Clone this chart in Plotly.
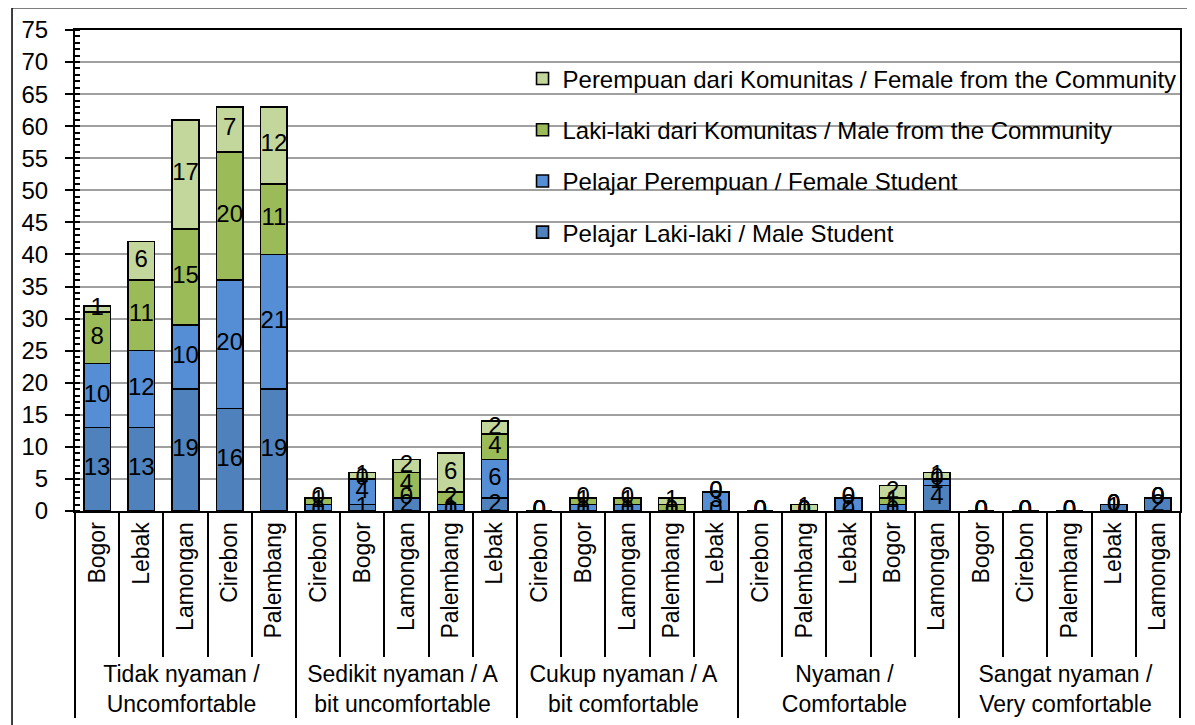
import plotly.graph_objects as go
import numpy as np

group_names = ["Tidak nyaman /<br>Uncomfortable", "Sedikit nyaman / A<br>bit uncomfortable",
               "Cukup nyaman / A<br>bit comfortable", "Nyaman /<br>Comfortable",
               "Sangat nyaman /<br>Very comfortable"]
cities_by_group = [
    ["Bogor", "Lebak", "Lamongan", "Cirebon", "Palembang"],
    ["Cirebon", "Bogor", "Lamongan", "Palembang", "Lebak"],
    ["Cirebon", "Bogor", "Lamongan", "Palembang", "Lebak"],
    ["Cirebon", "Palembang", "Lebak", "Bogor", "Lamongan"],
    ["Bogor", "Cirebon", "Palembang", "Lebak", "Lamongan"],
]

male_student = [13, 13, 19, 16, 19, 0, 1, 2, 0, 2, 0, 0, 0, 0, 0, 0, 0, 0, 0, 4, 0, 0, 0, 1, 2]
female_student = [10, 12, 10, 20, 21, 1, 4, 0, 1, 6, 0, 1, 1, 0, 3, 0, 0, 2, 1, 1, 0, 0, 0, 0, 0]
male_comm = [8, 11, 15, 20, 11, 1, 0, 4, 2, 4, 0, 1, 1, 1, 0, 0, 0, 0, 1, 0, 0, 0, 0, 0, 0]
female_comm = [1, 6, 17, 7, 12, 0, 1, 2, 6, 2, 0, 0, 0, 1, 0, 0, 1, 0, 2, 1, 0, 0, 0, 0, 0]

series = [
    ("Pelajar Laki-laki / Male Student", male_student, "#4F81BD"),
    ("Pelajar Perempuan / Female Student", female_student, "#558ED5"),
    ("Laki-laki dari Komunitas / Male from the Community", male_comm, "#9BBB59"),
    ("Perempuan dari Komunitas / Female from the Community", female_comm, "#C3D69B"),
]

# build the two-level category axis; zero-width spaces keep each group's own city order
groups, cities = [], []
for gi, (g, cs) in enumerate(zip(group_names, cities_by_group)):
    for c in cs:
        groups.append(g)
        cities.append(c + "\u200b" * gi)

FONT = "Liberation Sans, Arial, sans-serif"
FS = 24
x = [groups, cities]
fig = go.Figure()
base = np.zeros(len(cities))
label_traces = []
ranks = [4, 3, 2, 1]
for i, (name, vals, col) in enumerate(series):
    v = np.array(vals, dtype=float)
    fig.add_trace(go.Bar(
        x=x, y=vals, name=name, marker=dict(color=col, line=dict(color="black", width=1.6)),
        legendgroup=str(i), legendrank=ranks[i], hoverinfo="y+name"))
    label_traces.append(go.Scatter(
        x=x, y=base + v / 2, mode="text", text=[str(t) for t in vals],
        textfont=dict(family=FONT, size=FS, color="black"), showlegend=False, hoverinfo="skip"))
    base = base + v
for t in label_traces:
    fig.add_trace(t)

fig.update_layout(
    width=1187, height=717,
    barmode="stack", bargap=0.4,
    paper_bgcolor="white", plot_bgcolor="white",
    margin=dict(l=67, r=15, t=22, b=214, autoexpand=False),
    font=dict(family=FONT, size=FS, color="black"),
    legend=dict(x=0.405, y=0.945, xanchor="left", yanchor="top",
                traceorder="grouped", tracegroupgap=17,
                font=dict(size=FS, family=FONT), bgcolor="rgba(0,0,0,0)",
                itemwidth=30),
    showlegend=True,
)
fig.update_yaxes(range=[0, 75], dtick=5, showgrid=True, gridcolor="#a0a0a0", gridwidth=1.5,
                 showline=True, linecolor="black", linewidth=2, mirror=True,
                 ticks="outside", ticklen=8, tickwidth=1.5, tickcolor="black",
                 ticklabelstandoff=12,
                 minor=dict(dtick=1, ticks="inside", ticklen=5, tickcolor="black", showgrid=False),
                 tickfont=dict(size=FS, family=FONT), zeroline=False, automargin=False)
fig.update_xaxes(type="multicategory", range=[-0.5, len(cities) - 0.5],
                 showline=True, linecolor="black", linewidth=2, mirror=True,
                 tickangle=-90, ticks="outside", ticklen=144, tickwidth=1.5, tickcolor="black",
                 tickson="boundaries", showdividers=True, dividercolor="black", dividerwidth=1.5,
                 tickfont=dict(size=23, family=FONT), showgrid=False, automargin=False)

fig.add_shape(type="rect", xref="paper", yref="paper",
              x0=-0.057, x1=1.009, y0=-0.47, y1=1.046,
              line=dict(color="black", width=1.5), fillcolor="rgba(0,0,0,0)", layer="below")

fig.write_html("out.html")
